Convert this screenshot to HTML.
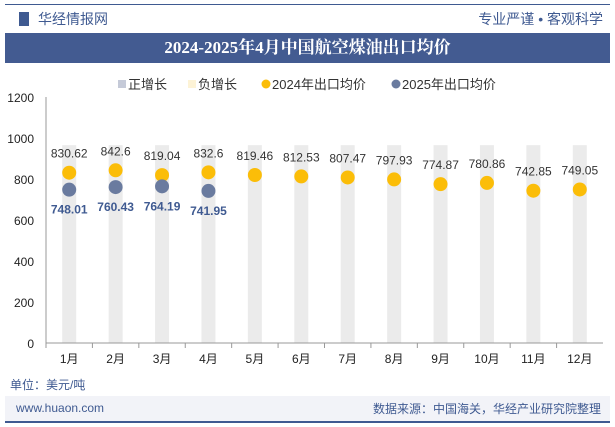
<!DOCTYPE html>
<html><head><meta charset="utf-8"><style>
body{margin:0;width:615px;height:427px;background:#fff;font-family:"Liberation Sans","Noto Sans CJK SC",sans-serif;overflow:hidden;position:relative}
.a{position:absolute}
</style></head><body>
<div class="a" style="left:5px;top:4px;width:605px;height:1px;background:#3f5a91"></div>
<div class="a" style="left:19px;top:12px;width:10px;height:14px;background:#3f5a91"></div>
<div class="a" style="left:38px;top:9px;font-size:14px;color:#3f5a91">华经情报网</div>
<div class="a" style="right:12px;top:9px;font-size:14px;color:#3f5a91">专业严谨 • 客观科学</div>
<div class="a" style="left:5px;top:33px;width:605px;height:30px;background:#435b91;color:#fff;font:bold 17px 'Liberation Serif','Noto Serif CJK SC',serif;text-align:center;line-height:30px">2024-2025年4月中国航空煤油出口均价</div>
<svg class="a" style="left:0;top:0" width="615" height="427" id="c"></svg>
<div class="a" style="left:10px;top:376px;font-size:12px;color:#3f5a91">单位：美元/吨</div>
<div class="a" style="left:5px;top:396px;width:605px;height:25px;background:#f2f3f8"></div>
<div class="a" style="left:16px;top:401px;font-size:12px;color:#3f5a91">www.huaon.com</div>
<div class="a" style="right:14px;top:400px;font-size:12px;color:#3f5a91">数据来源：中国海关，华经产业研究院整理</div>
<div class="a" style="left:5px;top:421px;width:605px;height:2px;background:#3f5a91"></div>
<script>
const months=["1月","2月","3月","4月","5月","6月","7月","8月","9月","10月","11月","12月"];
const v2024=[830.62,842.6,819.04,832.6,819.46,812.53,807.47,797.93,774.87,780.86,742.85,749.05];
const v2025=[748.01,760.43,764.19,741.95];
const yTicks=[0,200,400,600,800,1000,1200];
const bgMax=965;
const s=document.getElementById('c'),N='http://www.w3.org/2000/svg';
const x0=46,x1=603,y0=343,yTop=97;
const bw=(x1-x0)/months.length;
const X=i=>x0+bw*(i+0.5), Y=v=>y0-(v/1200)*(y0-yTop);
function e(t,a,txt){const n=document.createElementNS(N,t);for(const k in a)n.setAttribute(k,a[k]);if(txt!=null)n.textContent=txt;s.appendChild(n);return n;}
months.forEach((m,i)=>{
 const r=e('rect',{x:X(i)-7,y:Y(bgMax),width:14,height:y0-Y(bgMax),fill:'#ebebeb'});
 
 
 const t=e('text',{x:X(i),y:363,'text-anchor':'middle','font-size':12,fill:'#222'},m);
 
 
 const tk=e('line',{x1:x0+bw*i,x2:x0+bw*i,y1:y0,y2:y0+5,stroke:'#999'});
 
 
});
yTicks.forEach(v=>{
 const t=e('text',{x:34,y:Y(v)+5,'text-anchor':'end','font-size':12,fill:'#222'},v);
 
 
});
const ax=e('line',{x1:x0,x2:x0,y1:yTop,y2:y0,stroke:'#999'});


const bx=e('line',{x1:x0,x2:x1,y1:y0,y2:y0,stroke:'#999'});


v2024.forEach((v,i)=>{
 const c=e('circle',{cx:X(i),cy:Y(v),r:7,fill:'#fbbd08'});
 
 
 const t=e('text',{x:X(i),y:Y(v)-15,'text-anchor':'middle','font-size':12,fill:'#333'},v);
 
 
});
v2025.forEach((v,i)=>{
 const c=e('circle',{cx:X(i),cy:Y(v),r:7,fill:'#6a7b9f'});
 
 
 const t=e('text',{x:X(i),y:Y(v)+24,'text-anchor':'middle','font-size':12,'font-weight':'bold',fill:'#3f5a91'},v);
 
 
});
const lg=[['正增长','rect','#c5cad8',118],['负增长','rect','#fdf3d6',188],['2024年出口均价','circle','#fbbd08',262],['2025年出口均价','circle','#6a7b9f',392]];
lg.forEach(l=>{
 const m=l[1]=='rect'?e('rect',{x:l[3],y:80,width:8,height:8,fill:l[2]}):e('circle',{cx:l[3]+4,cy:84,r:4.5,fill:l[2]});
 
 
 const t=e('text',{x:l[3]+10,y:89,'font-size':13,fill:'#333'},l[0]);
 
 
});
</script>
</body></html>
